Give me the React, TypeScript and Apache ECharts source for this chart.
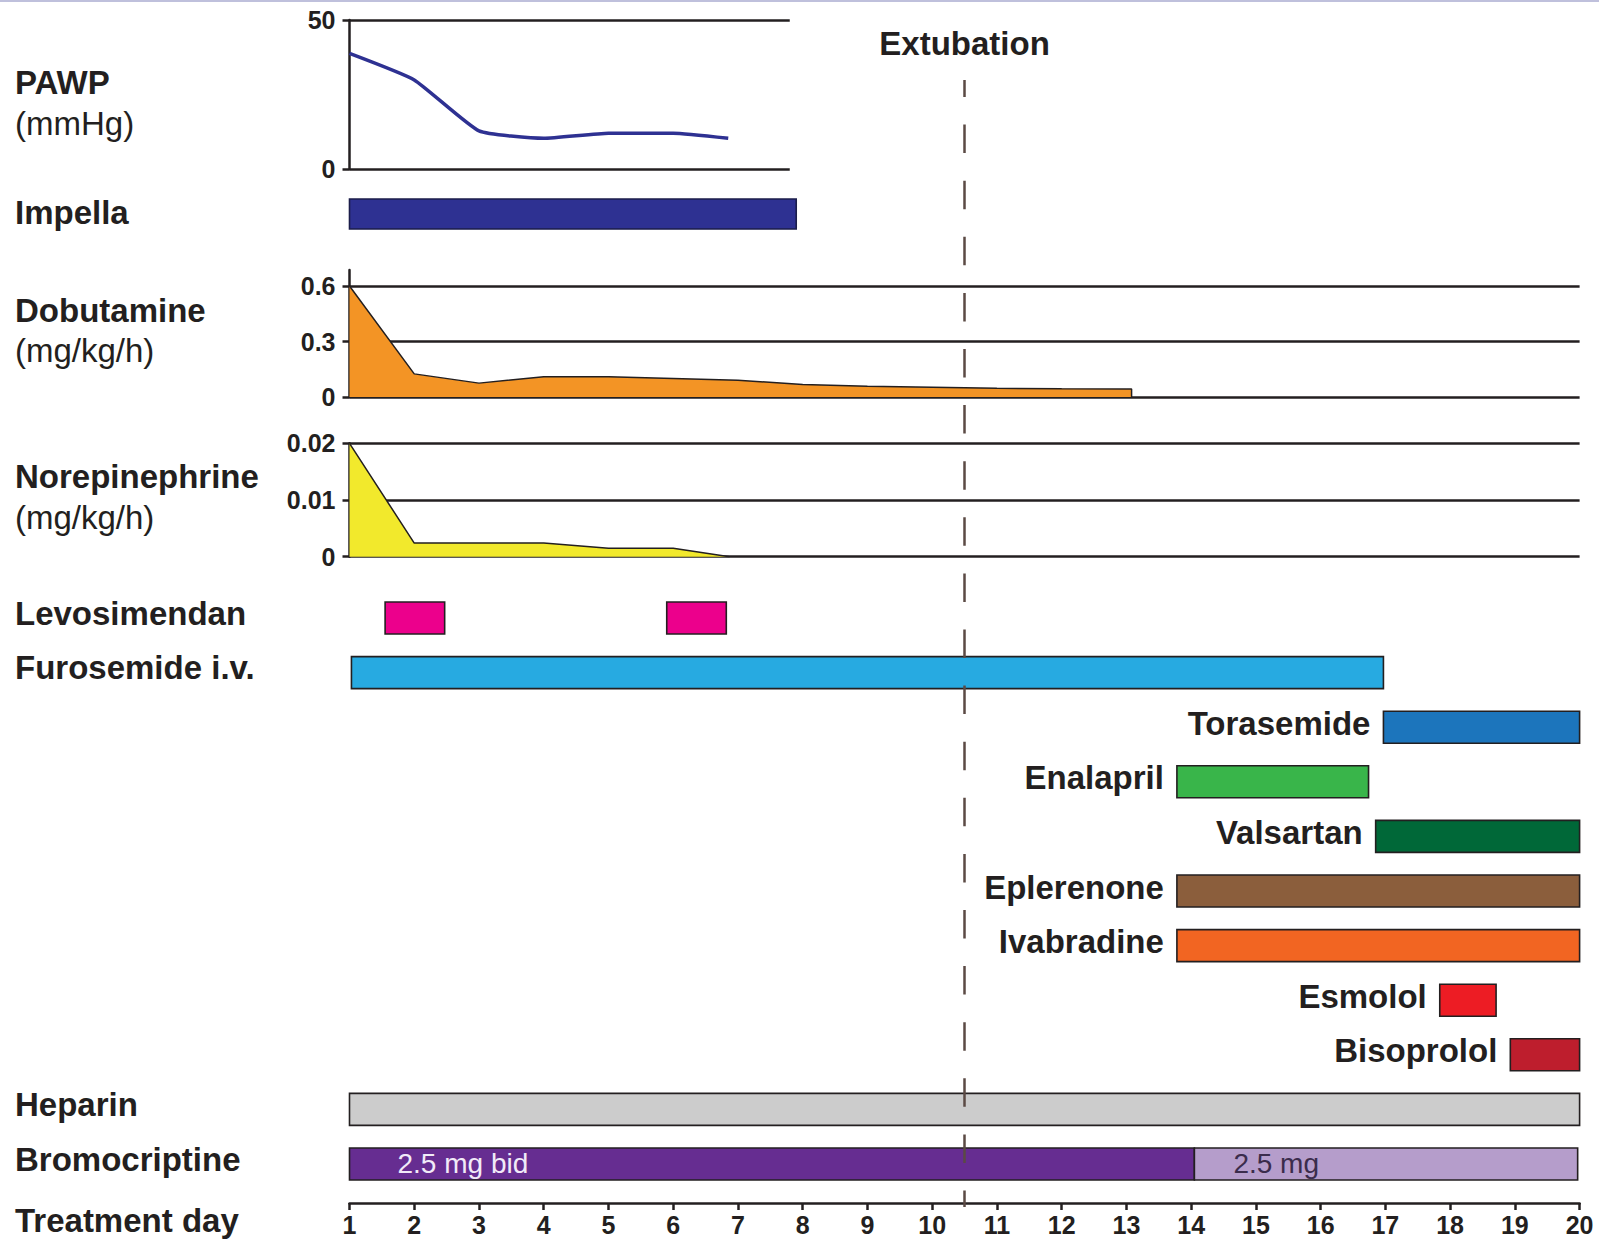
import React, { useEffect, useRef } from "react";
import * as echarts from "echarts";

// ---------------- data ----------------
const PAWP_DAYS = [1, 2, 3, 4, 5, 6, 6.85];
const PAWP_MMHG = [38.8, 29.9, 12.8, 10.3, 12.0, 12.0, 10.3];
const PAWP_TICKS = [0, 50];

const DOBUTAMINE_DAYS = [1, 2, 3, 4, 5, 6, 7, 8, 9, 10, 11, 12, 13, 13.08, 13.08];
const DOBUTAMINE_DOSE = [0.6, 0.125, 0.075, 0.11, 0.11, 0.1, 0.09, 0.068, 0.058, 0.053, 0.047, 0.044, 0.043, 0.043, 0];
const DOBUTAMINE_TICKS = [0, 0.3, 0.6];

const NOREPINEPHRINE_DAYS = [1, 2, 3, 4, 5, 6, 6.87];
const NOREPINEPHRINE_DOSE = [0.02, 0.0024, 0.0024, 0.0024, 0.0015, 0.0015, 0];
const NOREPINEPHRINE_TICKS = [0, 0.01, 0.02];

const IMPELLA_START = 1;
const IMPELLA_END = 7.9;

const ROWS = [
  "Levosimendan",
  "Furosemide i.v.",
  "Torasemide",
  "Enalapril",
  "Valsartan",
  "Eplerenone",
  "Ivabradine",
  "Esmolol",
  "Bisoprolol",
  "Heparin",
  "Bromocriptine",
];
const LEFT_LABELLED_ROWS = ["Levosimendan", "Furosemide i.v.", "Heparin", "Bromocriptine"];

const BAR_ROW = [0, 0, 1, 2, 3, 4, 5, 6, 7, 8, 9, 10, 10];
const BAR_START = [1.55, 5.9, 1.03, 16.97, 13.78, 16.85, 13.78, 13.78, 17.84, 18.93, 1, 1, 14.05];
const BAR_END = [2.47, 6.82, 16.97, 20, 16.74, 20, 20, 20, 18.71, 20, 20, 14.05, 19.97];
const BAR_NOTE = ["", "", "", "", "", "", "", "", "", "", "", "2.5 mg bid", "2.5 mg"];

const EXTUBATION_DAY = 10.5;
const EXTUBATION_LABEL = "Extubation";
const DAY_MIN = 1;
const DAY_MAX = 20;

const LEFT_LABELS = [
  { text: "PAWP", bold: true },
  { text: "(mmHg)", bold: false },
  { text: "Impella", bold: true },
  { text: "Dobutamine", bold: true },
  { text: "(mg/kg/h)", bold: false },
  { text: "Norepinephrine", bold: true },
  { text: "(mg/kg/h)", bold: false },
  { text: "Treatment day", bold: true },
];

// ---------------- styles / layout ----------------
const FONT = '"Liberation Sans", Arial, Helvetica, sans-serif';
const INK = "#231F20";
const LEFT_X = 15;
const LEFT_LABEL_Y = [82, 123, 212, 310, 350, 476, 517, 1220];
const BAR_COLORS = [
  "#EC008C", "#EC008C", "#27AAE1", "#1C75BC", "#39B54A", "#006838",
  "#8B5E3C", "#F26522", "#ED1C24", "#BE1E2D", "#CCCCCC", "#662D91", "#B59DCB",
];
const NOTE_COLORS = ["", "", "", "", "", "", "", "", "", "", "", "#F1EAF8", "#3B2C4C"];
const NOTE_INSET = [0, 0, 0, 0, 0, 0, 0, 0, 0, 0, 0, 48, 39];
const BAR_H = 32;
const X_LEFT = 349.5;
const X_WIDTH = 1230.1;
const PX_PER_DAY = X_WIDTH / (DAY_MAX - DAY_MIN);
const PAWP_X_MAX = 7.8;
const DOB_AXIS_TOP = 0.6865;
const ROW_STEP = 54.6;
const FIRST_ROW_CENTER = 618;

export default function App() {
  const ref = useRef<HTMLDivElement | null>(null);

  useEffect(() => {
    if (!ref.current) return;
    const chart = echarts.init(ref.current, undefined, { renderer: "svg" });

    const ganttData = BAR_ROW.map((r, i) => ({
      value: [r, BAR_START[i], BAR_END[i]],
      itemStyle: { color: BAR_COLORS[i] },
    }));

    const firstBarOfRow: Record<number, number> = {};
    BAR_ROW.forEach((r, i) => {
      if (firstBarOfRow[r] === undefined) firstBarOfRow[r] = i;
    });

    const labelStyle = {
      fill: INK,
      fontSize: 33,
      fontWeight: "bold",
      fontFamily: FONT,
      verticalAlign: "middle",
    };

    const ganttRender = (params: any, api: any) => {
      const i = params.dataIndex;
      const row = api.value(0);
      const s = api.value(1);
      const e = api.value(2);
      const p0 = api.coord([s, row]);
      const p1 = api.coord([e, row]);
      const cy = p0[1];
      const children: any[] = [
        {
          type: "rect",
          shape: { x: p0[0], y: cy - BAR_H / 2, width: p1[0] - p0[0], height: BAR_H },
          style: { fill: api.visual("color"), stroke: INK, lineWidth: 1.6 },
        },
      ];
      const name = ROWS[row];
      if (firstBarOfRow[row] === i) {
        const left = LEFT_LABELLED_ROWS.includes(name);
        children.push({
          type: "text",
          style: {
            ...labelStyle,
            x: left ? LEFT_X : p0[0] - 13,
            y: left ? cy - 5 : cy - 4,
            text: name,
            align: left ? "left" : "right",
          },
        });
      }
      if (BAR_NOTE[i]) {
        children.push({
          type: "text",
          style: {
            x: p0[0] + NOTE_INSET[i],
            y: cy - 1,
            text: BAR_NOTE[i],
            align: "left",
            verticalAlign: "middle",
            fill: NOTE_COLORS[i],
            fontSize: 28,
            fontFamily: FONT,
          },
        });
      }
      return { type: "group", children };
    };

    const impellaRender = (params: any, api: any) => {
      const p0 = api.coord([api.value(1), api.value(0)]);
      const p1 = api.coord([api.value(2), api.value(0)]);
      const h = 30;
      return {
        type: "rect",
        shape: { x: p0[0], y: p0[1] - h / 2, width: p1[0] - p0[0], height: h },
        style: { fill: "#2E3192", stroke: "#1B1D4A", lineWidth: 1.6 },
      };
    };

    const valueYAxis = (gridIndex: number, min: number, max: number, interval: number, ticks: number[]) => ({
      type: "value",
      gridIndex,
      min,
      max,
      interval,
      axisLine: { show: true, lineStyle: { color: INK, width: 2.5 } },
      axisTick: { show: true, length: 7, customValues: ticks, lineStyle: { color: INK, width: 2.5 } },
      axisLabel: {
        customValues: ticks,
        color: INK,
        fontSize: 25,
        fontWeight: "bold",
        fontFamily: FONT,
        margin: 14,
      },
      splitLine: {
        show: true,
        lineStyle: { color: [INK, INK, INK, "rgba(0,0,0,0)"], width: 2.5 },
      },
    });

    const hiddenX = (gridIndex: number, max = DAY_MAX) => ({
      type: "value",
      gridIndex,
      min: DAY_MIN,
      max,
      show: false,
      splitLine: { show: false },
    });

    const ganttTop = FIRST_ROW_CENTER - ROW_STEP / 2;
    const ganttHeight = ROW_STEP * ROWS.length;
    const xAxisLineY = 1203;

    const option: any = {
      animation: false,
      backgroundColor: "#ffffff",
      textStyle: { fontFamily: FONT },
      grid: [
        { left: X_LEFT, width: PX_PER_DAY * (PAWP_X_MAX - DAY_MIN), top: 20, height: 149 },
        { left: X_LEFT, width: X_WIDTH, top: 184, height: 60 },
        { left: X_LEFT, width: X_WIDTH, top: 270, height: 127 },
        { left: X_LEFT, width: X_WIDTH, top: 443.3, height: 113.4 },
        { left: X_LEFT, width: X_WIDTH, top: ganttTop, height: ganttHeight },
        { left: X_LEFT, width: X_WIDTH, top: 80, height: 1127 },
      ],
      xAxis: [
        hiddenX(0, PAWP_X_MAX),
        hiddenX(1),
        hiddenX(2),
        hiddenX(3),
        {
          type: "value",
          gridIndex: 4,
          min: DAY_MIN,
          max: DAY_MAX,
          interval: 1,
          offset: xAxisLineY - (ganttTop + ganttHeight),
          axisLine: { show: true, lineStyle: { color: INK, width: 2.5 } },
          axisTick: { show: true, length: 7, lineStyle: { color: INK, width: 2.5 } },
          axisLabel: { color: INK, fontSize: 25, fontWeight: "bold", fontFamily: FONT, margin: 9 },
          splitLine: { show: false },
        },
        hiddenX(5),
      ],
      yAxis: [
        valueYAxis(0, 0, 50, 50, PAWP_TICKS),
        { type: "category", gridIndex: 1, data: ["Impella"], show: false },
        valueYAxis(2, 0, DOB_AXIS_TOP, 0.3, DOBUTAMINE_TICKS),
        valueYAxis(3, 0, 0.02, 0.01, NOREPINEPHRINE_TICKS),
        { type: "category", gridIndex: 4, data: ROWS, inverse: true, show: false },
        { type: "value", gridIndex: 5, min: 0, max: 1, show: false, splitLine: { show: false } },
      ],
      graphic: [
        { type: "rect", shape: { x: 0, y: 0, width: 1599, height: 2 }, style: { fill: "#BFC0DC" } },
        ...LEFT_LABELS.map((l, i) => ({
          type: "text",
          x: LEFT_X,
          y: LEFT_LABEL_Y[i],
          style: {
            text: l.text,
            fill: INK,
            fontSize: 33,
            fontWeight: l.bold ? "bold" : "normal",
            fontFamily: FONT,
            align: "left",
            verticalAlign: "middle",
          },
        })),
      ],
      series: [
        {
          type: "line",
          xAxisIndex: 0,
          yAxisIndex: 0,
          data: PAWP_DAYS.map((d, i) => [d, PAWP_MMHG[i]]),
          symbol: "none",
          smooth: 0.15,
          lineStyle: { color: "#2E3192", width: 3.5 },
        },
        {
          type: "custom",
          xAxisIndex: 1,
          yAxisIndex: 1,
          renderItem: impellaRender,
          encode: { x: [1, 2], y: 0 },
          data: [[0, IMPELLA_START, IMPELLA_END]],
        },
        {
          type: "line",
          xAxisIndex: 2,
          yAxisIndex: 2,
          data: DOBUTAMINE_DAYS.map((d, i) => [d, DOBUTAMINE_DOSE[i]]),
          symbol: "none",
          lineStyle: { color: INK, width: 1.5 },
          areaStyle: { color: "#F39425", opacity: 1 },
        },
        {
          type: "line",
          xAxisIndex: 3,
          yAxisIndex: 3,
          data: NOREPINEPHRINE_DAYS.map((d, i) => [d, NOREPINEPHRINE_DOSE[i]]),
          symbol: "none",
          lineStyle: { color: INK, width: 1.5 },
          areaStyle: { color: "#F2E92C", opacity: 1 },
        },
        {
          type: "custom",
          xAxisIndex: 4,
          yAxisIndex: 4,
          renderItem: ganttRender,
          encode: { x: [1, 2], y: 0 },
          data: ganttData,
        },
        {
          type: "line",
          xAxisIndex: 5,
          yAxisIndex: 5,
          data: [],
          z: 20,
          markLine: {
            silent: true,
            symbol: ["none", "none"],
            lineStyle: { color: "#5B4A44", width: 2.5, type: [28.5, 27.6], dashOffset: 11.5 },
            label: {
              show: true,
              position: "end",
              formatter: EXTUBATION_LABEL,
              color: INK,
              fontSize: 33,
              fontWeight: "bold",
              fontFamily: FONT,
              distance: 20,
            },
            data: [{ xAxis: EXTUBATION_DAY }],
          },
        },
      ],
    };

    chart.setOption(option);
    return () => chart.dispose();
  }, []);

  return (
    <div
      ref={ref}
      style={{ position: "absolute", left: 0, top: 0, width: 1599, height: 1242, background: "#fff" }}
    />
  );
}
